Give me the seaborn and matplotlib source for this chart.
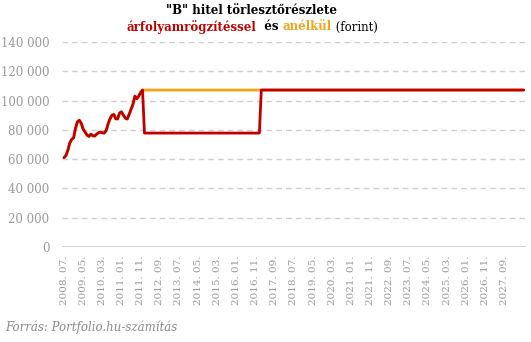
import matplotlib
matplotlib.use("Agg")
import matplotlib.pyplot as plt
import seaborn as sns
import numpy as np
import pandas as pd

# Monthly instalment (forint), 2008.07 onwards
start_month = "2008-07"
n_months = 241

# Market-rate phase, shared by both series (2008.07 - 2011.11)
early_values = [
    61000, 62500, 66000, 71000, 73500, 74500, 81000, 85500, 86500, 84500,
    80500, 78500, 76500, 75500, 77000, 76000, 75800, 77000, 78000, 78500,
    78000, 77800, 79500, 84000, 87500, 90000, 90500, 87500, 87500, 91500,
    92300, 90000, 88000, 87400, 90500, 94000, 97500, 103000, 101300, 103000,
    105500, 107200,
]
full_rate = 107200          # instalment without fixing
fixed_rate = 77800          # instalment with fixed exchange rate
fixed_months = 61           # length of the fixed-rate period

months = pd.period_range(start_month, periods=n_months, freq="M")
month_labels = [m.strftime("%Y. %m.") for m in months]

without_fix = early_values + [full_rate] * (n_months - len(early_values))
with_fix = (early_values + [fixed_rate] * fixed_months
            + [full_rate] * (n_months - len(early_values) - fixed_months))

df = pd.DataFrame({
    "idx": np.arange(n_months),
    "anélkül": without_fix,
    "árfolyamrögzítéssel": with_fix,
})

RED = "#c00000"
ORANGE = "#f5a31a"
GREY = "#9a9a9a"

sns.set_theme(style="white")
plt.rcParams["font.family"] = ["DejaVu Serif"]

fig = plt.figure(figsize=(5.31, 3.42), dpi=100)
ax = fig.add_axes([62 / 531, 95 / 342, 464 / 531, 205 / 342])

sns.lineplot(data=df, x="idx", y="anélkül", ax=ax, color=ORANGE, lw=2.0)
sns.lineplot(data=df, x="idx", y="árfolyamrögzítéssel", ax=ax, color=RED, lw=2.0)

ax.set_xlim(-1.05, 241.2)
ax.set_ylim(0, 140000)
yt = np.arange(0, 140001, 20000)
ax.set_yticks(yt)
ax.set_yticklabels([f"{v:,}".replace(",", " ") for v in yt])
for v in yt[1:]:
    ax.axhline(v, color="#cfcfcf", lw=1.0, ls=(0, (4, 3)), zorder=0)
ax.axhline(0, color="#cccccc", lw=1.2, zorder=0)

xt = list(range(0, 231, 10))
ax.set_xticks(xt)
ax.set_xticklabels([month_labels[i] for i in xt], rotation=90)

ax.tick_params(axis="y", length=0, pad=9, labelsize=8.5, labelcolor=GREY)
ax.tick_params(axis="x", length=0, pad=6, labelsize=7.5, labelcolor=GREY)
for s in ax.spines.values():
    s.set_visible(False)
ax.set_xlabel("")
ax.set_ylabel("")

# Title, second line drawn in coloured pieces
fig.text(251 / 531, 1 - 11 / 342, '"B" hitel törlesztőrészlete', ha="center",
         va="center", fontsize=8.5, fontweight="bold", color="black")
pieces = [("árfolyamrögzítéssel", RED, "bold"), ("  és ", "black", "bold"),
          ("anélkül", ORANGE, "bold"), (" (forint)", "black", "normal")]
renderer = fig.canvas.get_renderer()
texts = []
widths = []
for s, c, w in pieces:
    t = fig.text(0, 1 - 27 / 342, s, ha="left", va="center", fontsize=8.5,
                 fontweight=w, color=c)
    bb = t.get_window_extent(renderer=renderer)
    texts.append(t)
    widths.append(bb.width)
total = sum(widths)
x0 = 252 - total / 2
for t, w in zip(texts, widths):
    t.set_x(x0 / 531)
    x0 += w

fig.text(5 / 531, 1 - 327 / 342, "Forrás: Portfolio.hu-számítás", ha="left",
         va="center", fontsize=8.5, style="italic", color="#8a8a8a")

fig.savefig("out.png", dpi=100)
